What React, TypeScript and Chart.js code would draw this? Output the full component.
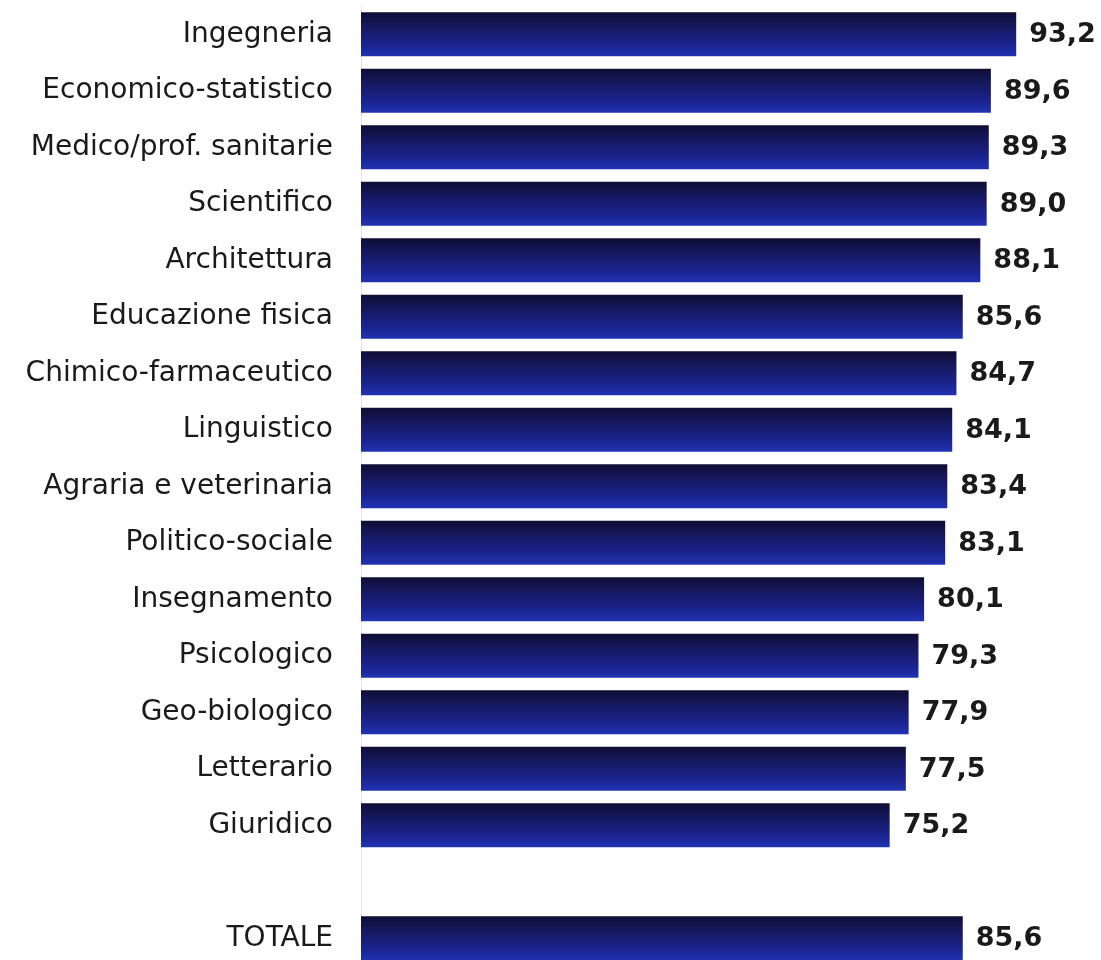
import React, { useEffect, useRef } from "react";
import { Chart, registerables } from "chart.js";

Chart.register(...registerables);

const categories: string[] = [
  "Ingegneria",
  "Economico-statistico",
  "Medico/prof. sanitarie",
  "Scientifico",
  "Architettura",
  "Educazione fisica",
  "Chimico-farmaceutico",
  "Linguistico",
  "Agraria e veterinaria",
  "Politico-sociale",
  "Insegnamento",
  "Psicologico",
  "Geo-biologico",
  "Letterario",
  "Giuridico",
  "",
  "TOTALE",
];

const values: (number | null)[] = [
  93.2, 89.6, 89.3, 89.0, 88.1, 85.6, 84.7, 84.1, 83.4, 83.1, 80.1, 79.3, 77.9, 77.5, 75.2, null, 85.6,
];

const fmt = (v: number) => v.toFixed(1).replace(".", ",");

const valueLabels = {
  id: "valueLabels",
  afterDatasetsDraw(chart: any) {
    const ctx = chart.ctx;
    const meta = chart.getDatasetMeta(0);
    ctx.save();
    ctx.font = 'bold 27px "DejaVu Sans"';
    ctx.fillStyle = "#1a1a1a";
    ctx.textAlign = "left";
    ctx.textBaseline = "middle";
    meta.data.forEach((bar: any, i: number) => {
      const v = values[i];
      if (v == null) return;
      ctx.fillText(fmt(v), bar.x + 13, bar.y + 1);
    });
    ctx.restore();
  },
};

export default function App() {
  const ref = useRef<HTMLCanvasElement | null>(null);

  useEffect(() => {
    if (!ref.current) return;
    const chart = new Chart(ref.current, {
      type: "bar",
      data: {
        labels: categories,
        datasets: [
          {
            data: values as any,
            backgroundColor: (c: any) => {
              const ch = c.chart;
              const ys = ch.scales && ch.scales.y;
              if (!ys || c.type !== "data") return "#1a1d7a";
              const cy = ys.getPixelForValue(c.dataIndex);
              if (!isFinite(cy)) return "#1a1d7a";
              const h = 22;
              const g = ch.ctx.createLinearGradient(0, cy - h, 0, cy + h);
              g.addColorStop(0, "#0e0e34");
              g.addColorStop(0.4, "#171a68");
              g.addColorStop(0.75, "#1b2490");
              g.addColorStop(1, "#2033b4");
              return g;
            },
            borderWidth: 0,
            categoryPercentage: 1,
            barPercentage: 0.78,
          },
        ],
      },
      options: {
        indexAxis: "y",
        animation: false,
        responsive: false,
        maintainAspectRatio: false,
        devicePixelRatio: 1,
        layout: { padding: { top: 6, bottom: 8.5, left: 0, right: 37 } },
        plugins: {
          legend: { display: false },
          tooltip: { enabled: false },
        },
        scales: {
          x: {
            display: false,
            min: 0,
            max: 100,
          },
          y: {
            afterFit(scale: any) {
              scale.width = 361;
              scale.paddingTop = 0;
              scale.paddingBottom = 0;
            },
            grid: { display: false, drawTicks: false },
            border: { display: true, color: "#e4e4e4", width: 1 },
            ticks: {
              padding: 28,
              color: "#1a1a1a",
              font: { family: "DejaVu Sans", size: 28 },
              autoSkip: false,
            },
          },
        },
      },
      plugins: [valueLabels],
    });
    return () => chart.destroy();
  }, []);

  return (
    <div
      style={{
        position: "absolute",
        left: 0,
        top: 0,
        width: 1101,
        height: 960,
        overflow: "hidden",
        background: "#ffffff",
      }}
    >
      <canvas ref={ref} width={1101} height={975} style={{ display: "block" }} />
    </div>
  );
}
